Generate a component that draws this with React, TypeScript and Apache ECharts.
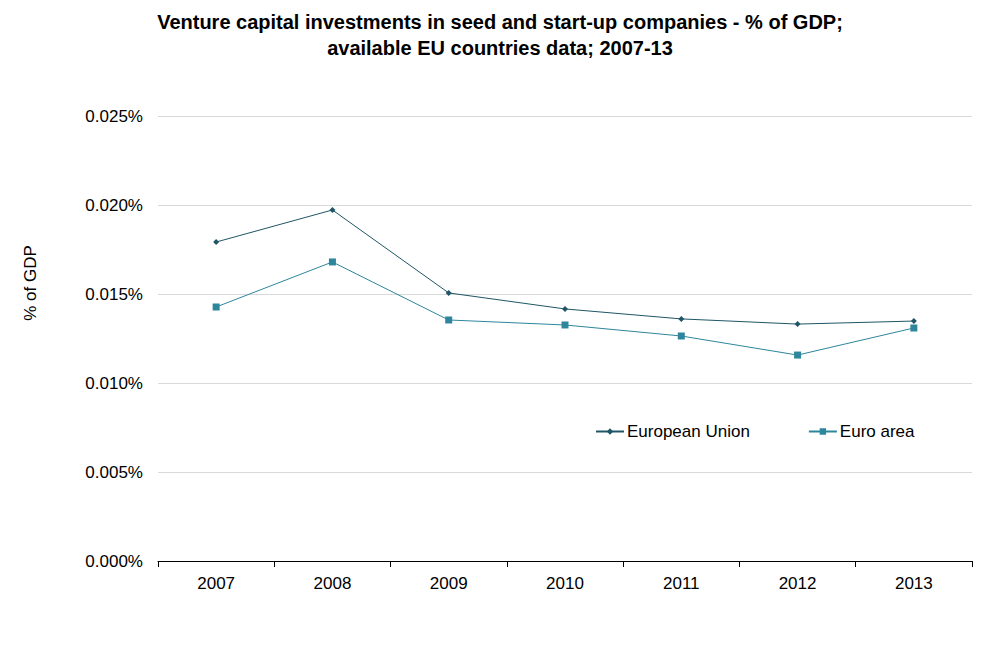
import React, { useEffect, useRef } from "react";
import * as echarts from "echarts";

const years = ["2007", "2008", "2009", "2010", "2011", "2012", "2013"];
const europeanUnion = [0.01792, 0.01972, 0.01506, 0.01416, 0.0136, 0.01331, 0.01348];
const euroArea = [0.01427, 0.0168, 0.01354, 0.01326, 0.01264, 0.01157, 0.01309];
const titleText =
  "Venture capital investments in seed and start-up companies - % of GDP;\navailable EU countries data; 2007-13";
const yAxisTitle = "% of GDP";

export default function App() {
  const ref = useRef<HTMLDivElement>(null);
  useEffect(() => {
    if (!ref.current) return;
    const chart = echarts.init(ref.current, null, { renderer: "svg" });
    const font = "Liberation Sans, Arial, sans-serif";
    chart.setOption({
      animation: false,
      backgroundColor: "#ffffff",
      title: {
        text: titleText,
        left: "center",
        top: 4,
        textStyle: {
          fontFamily: font,
          fontSize: 20,
          fontWeight: "bold",
          color: "#000",
          lineHeight: 26,
        },
      },
      graphic: [
        {
          type: "text",
          x: 30,
          y: 283,
          rotation: Math.PI / 2,
          style: {
            text: yAxisTitle,
            fontFamily: font,
            fontSize: 17,
            fill: "#000",
            textAlign: "center",
            textVerticalAlign: "middle",
          },
        },
      ],
      legend: {
        left: 590,
        top: 418,
        itemGap: 58,
        itemWidth: 28,
        itemHeight: 8,
        textStyle: { fontFamily: font, fontSize: 17, color: "#000", padding: [0, 0, 0, -2] },
        data: ["European Union", "Euro area"],
      },
      grid: { left: 158, right: 28, top: 116, bottom: 89, containLabel: false },
      xAxis: {
        type: "category",
        data: years,
        boundaryGap: true,
        axisLine: { lineStyle: { color: "#000", width: 1 } },
        axisTick: { show: true, length: 6, lineStyle: { color: "#000" } },
        axisLabel: { fontFamily: font, fontSize: 17, color: "#000", margin: 14 },
      },
      yAxis: {
        type: "value",
        min: 0,
        max: 0.025,
        interval: 0.005,
        axisLine: { show: false },
        axisTick: { show: false },
        splitLine: { lineStyle: { color: "#d9d9d9", width: 1 } },
        axisLabel: {
          fontFamily: font,
          fontSize: 17,
          color: "#000",
          margin: 15,
          formatter: (v: number) => v.toFixed(3) + "%",
        },
      },
      series: [
        {
          name: "European Union",
          type: "line",
          data: europeanUnion,
          symbol: "diamond",
          symbolSize: 6,
          color: "#1f5566",
          lineStyle: { width: 1, color: "#1f5566" },
          itemStyle: { color: "#1f5566" },
        },
        {
          name: "Euro area",
          type: "line",
          data: euroArea,
          symbol: "rect",
          symbolSize: 7,
          color: "#2e869c",
          lineStyle: { width: 1, color: "#2e869c" },
          itemStyle: { color: "#2e869c" },
        },
      ],
    });
    return () => chart.dispose();
  }, []);
  return (
    <div
      ref={ref}
      style={{ position: "absolute", left: 0, top: 0, width: 1000, height: 650 }}
    />
  );
}
